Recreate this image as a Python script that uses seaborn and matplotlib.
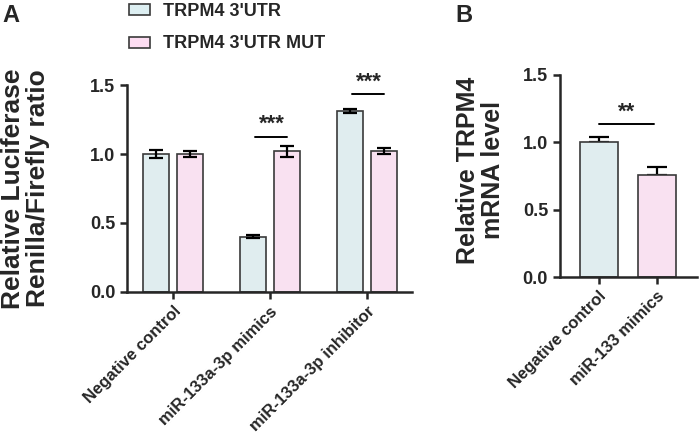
import matplotlib
matplotlib.use("Agg")
import matplotlib.pyplot as plt
from matplotlib.patches import Patch
import pandas as pd
import seaborn as sns

# panel A data
groups_a = ["Negative control", "miR-133a-3p mimics", "miR-133a-3p inhibitor"]
series = ["TRPM4 3'UTR", "TRPM4 3'UTR MUT"]
wt_mean = [1.00, 0.40, 1.31]
wt_err = [0.03, 0.01, 0.015]
mut_mean = [1.00, 1.02, 1.02]
mut_err = [0.02, 0.04, 0.02]

# panel B data
groups_b = ["Negative control", "miR-133 mimics"]
b_mean = [1.00, 0.76]
b_err = [0.04, 0.06]

colors = ["#DDEFF2", "#FDDDF2"]
edge = "#3a3a3a"

sns.set_style("ticks")
plt.rcParams["font.family"] = ["Liberation Sans", "DejaVu Sans"]
plt.rcParams["font.weight"] = "bold"
plt.rcParams["axes.linewidth"] = 1.8
plt.rcParams["xtick.major.width"] = 1.8
plt.rcParams["ytick.major.width"] = 1.8
plt.rcParams["xtick.major.size"] = 5
plt.rcParams["ytick.major.size"] = 5

fig = plt.figure(figsize=(6.99, 4.43), dpi=100)
ax_a = fig.add_axes([0.1817, 0.341, 0.4077, 0.467])
ax_b = fig.add_axes([0.801, 0.3747, 0.196, 0.456])

df_a = pd.DataFrame({
    "group": groups_a * 2,
    "series": [series[0]] * 3 + [series[1]] * 3,
    "value": wt_mean + mut_mean,
})
sns.barplot(data=df_a, x="group", y="value", hue="series", hue_order=series,
            palette=colors, width=0.72, gap=0.255, edgecolor=edge,
            linewidth=1.2, errorbar=None, legend=False, ax=ax_a)

errs_a = wt_err + mut_err
means_a = wt_mean + mut_mean
for bar, m, e in zip(ax_a.patches[:6], means_a, errs_a):
    cx = bar.get_x() + bar.get_width() / 2
    ax_a.errorbar(cx, m, yerr=e, color="black", capsize=5, capthick=1.6,
                  elinewidth=1.6, zorder=5)

ax_a.set_ylim(0, 1.5)
ax_a.set_yticks([0, 0.5, 1.0, 1.5])
ax_a.set_yticklabels(["0.0", "0.5", "1.0", "1.5"])
ax_a.set_xlim(-0.474, 2.464)
ax_a.set_xlabel("")
ax_a.set_ylabel("Relative Luciferase\nRenilla/Firefly ratio", fontsize=19,
                fontweight="bold", linespacing=1.05)
ax_a.yaxis.set_label_coords(-0.27, 0.5)
ax_a.tick_params(axis="y", labelsize=13)
ax_a.set_xticks(range(3))
ax_a.set_xticklabels(groups_a, rotation=45, ha="right", rotation_mode="anchor",
                     fontsize=12, fontweight="bold")
sns.despine(ax=ax_a)

# significance marks panel A
for gi, y in [(1, 1.125), (2, 1.435)]:
    b1 = ax_a.patches[gi]
    b2 = ax_a.patches[gi + 3]
    x1 = b1.get_x() + b1.get_width() / 2 + 0.03
    x2 = b2.get_x() + b2.get_width() / 2
    ax_a.plot([x1, x2], [y, y], color="black", lw=1.4, clip_on=False)
    ax_a.text((x1 + x2) / 2, y + 0.012, "***", ha="center", va="bottom",
              fontsize=16, fontweight="bold")

# panel B
df_b = pd.DataFrame({"group": groups_b, "value": b_mean})
sns.barplot(data=df_b, x="group", y="value", hue="group", palette=colors,
            width=0.65, edgecolor=edge, linewidth=1.2, errorbar=None,
            legend=False, ax=ax_b)
for bar, m, e in zip(ax_b.patches[:2], b_mean, b_err):
    cx = bar.get_x() + bar.get_width() / 2
    ax_b.errorbar(cx, m, yerr=[[0], [e]], color="black", capsize=7,
                  capthick=1.6, elinewidth=1.6, zorder=0)

ax_b.set_ylim(0, 1.5)
ax_b.set_yticks([0, 0.5, 1.0, 1.5])
ax_b.set_yticklabels(["0.0", "0.5", "1.0", "1.5"])
ax_b.set_xlim(-0.672, 1.69)
ax_b.set_xlabel("")
ax_b.set_ylabel("Relative TRPM4\nmRNA level", fontsize=18, fontweight="bold",
                linespacing=1.05)
ax_b.yaxis.set_label_coords(-0.40, 0.53)
ax_b.tick_params(axis="y", labelsize=13)
ax_b.set_xticks(range(2))
ax_b.set_xticklabels(groups_b, rotation=45, ha="right", rotation_mode="anchor",
                     fontsize=12, fontweight="bold")
sns.despine(ax=ax_b)
ax_b.plot([0, 0.95], [1.136, 1.136], color="black", lw=1.4)
ax_b.text(0.47, 1.145, "**", ha="center", va="bottom", fontsize=16,
          fontweight="bold")

# legend
handles = [Patch(facecolor=c, edgecolor=edge, linewidth=1.2, label=s)
           for c, s in zip(colors, series)]
fig.legend(handles=handles, loc="upper left", bbox_to_anchor=(0.184, 0.993),
           frameon=False, handlelength=1.2, handleheight=0.55,
           labelspacing=0.85, handletextpad=0.7, borderpad=0,
           borderaxespad=0, prop={"weight": "bold", "size": 13})

fig.text(0.004, 0.992, "A", fontsize=17, fontweight="bold", va="top")
fig.text(0.651, 0.992, "B", fontsize=17, fontweight="bold", va="top")

fig.savefig("out.png", dpi=100)
